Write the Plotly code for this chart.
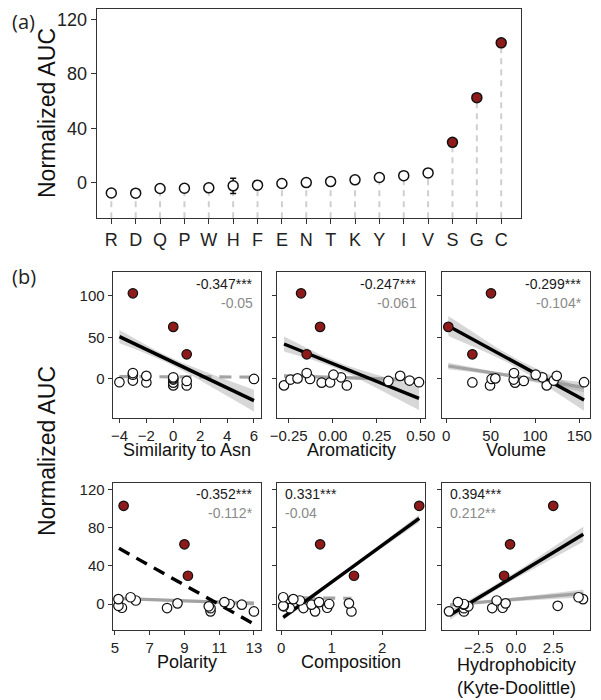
import numpy as np
import plotly.graph_objects as go

FONT = "Liberation Sans, Arial, Helvetica, sans-serif"
PAGE_W, PAGE_H = 601, 700
OFF = 8  # default body margin of the html page
W, H = PAGE_W - OFF, PAGE_H - OFF
RED = "#8e1a1a"

# ---- data (residue order as in panel a) ----
residues = ["R", "D", "Q", "P", "W", "H", "F", "E", "N", "T", "K", "Y", "I", "V", "S", "G", "C"]
auc = [-7.7, -7.8, -4.4, -4.2, -3.9, -2.4, -1.9, -0.7, 0.0, 0.7, 2.0, 3.7, 5.1, 7.1, 29.6, 62.5, 102.8]
auc_err = [0.8, 0.8, 1.0, 1.0, 1.5, 5.6, 3.0, 0.8, 0.8, 0.8, 0.8, 1.5, 0.8, 0.8, 0.8, 0.8, 0.8]
highlight = ["S", "G", "C"]

similarity_asn = [0, 1, 0, -2, -4, 1, -3, 0, 6, 0, 0, -2, -3, -3, 1, 0, -3]
aromaticity = [-0.277, 0.08, -0.063, -0.015, 0.49, 0.316, 0.436, -0.24, -0.129, -0.2, 0.047, 0.383, 0.004, -0.148,
               -0.148, -0.072, -0.18]
volume = [113.2, 49.3, 77.5, 29.4, 155.3, 87.3, 121.1, 76.0, 51.1, 55.3, 108.3, 124.5, 100.8, 76.3, 29.4, 2.3, 50.4]
polarity = [10.5, 13.0, 10.5, 8.0, 5.4, 10.4, 5.2, 12.3, 11.6, 8.6, 11.3, 6.2, 5.2, 5.9, 9.2, 9.0, 5.5]
composition = [0.67, 1.39, 0.17, 0.44, 0.91, 0.05, 0.04, 0.6, 0.95, 1.34, 0.75, 0.37, 0.24, 0.04, 1.44, 0.77, 2.73]
hydrophobicity = [-4.5, -3.5, -3.5, -1.6, -0.9, -3.2, 2.8, -3.5, -3.5, -0.7, -3.9, -1.3, 4.5, 4.2, -0.8, -0.4, 2.5]

properties = [similarity_asn, aromaticity, volume, polarity, composition, hydrophobicity]
prop_titles = ["Similarity to Asn", "Aromaticity", "Volume", "Polarity", "Composition",
               "Hydrophobicity<br>(Kyte-Doolittle)"]

corr_all = ["-0.347***", "-0.247***", "-0.299***", "-0.352***", "0.331***", "0.394***"]
corr_sub = ["-0.05", "-0.061", "-0.104*", "-0.112*", "-0.04", "0.212**"]

# fitted lines (all residues / without S,G,C): end points and CI half widths (left, min, right)
fit_all_x = [[-4, 6], [-0.277, 0.49], [2.3, 155.3], [5.23, 13.0], [0.04, 2.73], [-4.43, 4.52]]
fit_all_y = [[50.8, -26.0], [42.0, -23.2], [63.6, -25.2], [58.3, -20.9], [-14.0, 89.7], [-11.5, 73.0]]
fit_all_ci = [[8, 4, 13], [9, 4, 14], [12, 5, 13], [0, 0, 0], [3, 1.5, 4], [5, 3, 8]]
fit_sub_x = [[-4, 6], [-0.277, 0.49], [2.3, 155.3], [5.1, 13.0], [0.04, 1.39], [-4.43, 4.52]]
fit_sub_y = [[2.8, 2.3], [3.6, -1.2], [15.6, -10.0], [6.0, 0.7], [6.5, 6.0], [-1.0, 11.2]]
fit_sub_ci = [[0, 0, 0], [2, 1, 3], [4, 2, 6], [1.5, 1, 2.5], [0, 0, 0], [2, 1.5, 4]]
all_dashed = [False, False, False, True, False, False]
sub_dashed = [True, False, False, False, True, False]

# ---- layout geometry (page pixels) ----
a_box = (96.7, 520.7, 9.3, 218.3)
cols = [(112.7, 260.7), (277.3, 425.0), (442.3, 590.0)]
rows = [(272.3, 418.3), (482.7, 630.0)]
a_yrange = [-26.3, 127.5]
b_xranges = [[-4.5, 6.5], [-0.315, 0.524], [-4.5, 162], [4.87, 13.39], [-0.077, 2.845], [-4.95, 4.97]]
b_yranges = [[-47.2, 128], [-27.2, 127]]
b_xticks = [[-4, -2, 0, 2, 4, 6], [-0.25, 0, 0.25, 0.5], [0, 50, 100, 150], [5, 7, 9, 11, 13], [0, 1, 2],
            [-2.5, 0, 2.5]]
b_xfmt = ["", ".2f", "", "", "", ".1f"]
b_yticks = [[0, 50, 100], [0, 40, 80, 120]]


def px(x):
    return (x - OFF) / W


def py(y):
    return 1 - (y - OFF) / H


def band(xr, yr, ci, n=50):
    a, lw, rw = ci[1], ci[0], ci[2]
    xs, xe = xr
    L, R = max(lw ** 2 - a ** 2, 1e-6), max(rw ** 2 - a ** 2, 1e-6)
    r = np.sqrt(L / R)
    xc = (xs + r * xe) / (1 + r)
    b = np.sqrt(L) / (xc - xs)
    xx = np.linspace(xs, xe, n)
    yy = yr[0] + (yr[1] - yr[0]) * (xx - xs) / (xe - xs)
    hw = np.sqrt(a ** 2 + b ** 2 * (xx - xc) ** 2)
    return np.concatenate([xx, xx[::-1]]), np.concatenate([yy + hw, (yy - hw)[::-1]])


fig = go.Figure()

is_red = [r in highlight for r in residues]
white_idx = [i for i, f in enumerate(is_red) if not f]
red_idx = [i for i, f in enumerate(is_red) if f]

# ---- panel (a) ----
sx, sy = [], []
for i, v in enumerate(auc):
    sx += [i, i, None]
    sy += [a_yrange[0], v, None]
fig.add_trace(go.Scatter(x=sx, y=sy, mode="lines", xaxis="x", yaxis="y",
                         line=dict(color="#cfcfcf", width=2, dash="6px,5px"), hoverinfo="skip"))
for idx, fill in [(white_idx, "white"), (red_idx, RED)]:
    fig.add_trace(go.Scatter(
        x=idx, y=[auc[i] for i in idx], xaxis="x", yaxis="y", mode="markers",
        error_y=dict(type="data", array=[auc_err[i] for i in idx], color="#111", thickness=1.5, width=3),
        marker=dict(size=10, color=fill, line=dict(color="#111", width=1.5)),
    ))

# ---- panel (b) ----
for k, prop in enumerate(properties):
    ax = k + 2
    xa, ya = "x%d" % ax, "y%d" % ax
    for xr, yr, ci, dashed, col, wid in [
        (fit_sub_x[k], fit_sub_y[k], fit_sub_ci[k], sub_dashed[k], "#a3a3a3", 3.2),
        (fit_all_x[k], fit_all_y[k], fit_all_ci[k], all_dashed[k], "#000000", 3.4),
    ]:
        if ci[0] > 0:
            bx, by = band(xr, yr, ci)
            fig.add_trace(go.Scatter(x=bx, y=by, xaxis=xa, yaxis=ya, mode="lines", fill="toself",
                                     fillcolor="rgba(150,150,150,0.38)", line=dict(width=0),
                                     hoverinfo="skip"))
        fig.add_trace(go.Scatter(x=xr, y=yr, xaxis=xa, yaxis=ya, mode="lines",
                                 line=dict(color=col, width=wid,
                                           dash="12px,8px" if dashed else "solid")))
    for idx, fill in [(white_idx, "white"), (red_idx, RED)]:
        fig.add_trace(go.Scatter(
            x=[prop[i] for i in idx], y=[auc[i] for i in idx], xaxis=xa, yaxis=ya, mode="markers",
            marker=dict(size=9.5, color=fill, line=dict(color="#111", width=1.2)),
        ))

axis_common = dict(showline=True, mirror=True, linecolor="#333", linewidth=1.2, ticks="outside",
                   ticklen=4, tickcolor="#333", showgrid=False, zeroline=False, automargin=False,
                   tickfont=dict(family=FONT, size=15, color="#222"))

layout = dict(
    width=W, height=H, margin=dict(l=0, r=0, t=0, b=0), showlegend=False,
    paper_bgcolor="white", plot_bgcolor="white", font=dict(family=FONT, color="#222"),
)
layout["xaxis"] = dict(axis_common, domain=[px(a_box[0]), px(a_box[1])], range=[-0.6, 16.8],
                       tickmode="array", tickvals=list(range(len(residues))), ticktext=residues,
                       tickfont=dict(family=FONT, size=18, color="#222"), ticklen=5, anchor="y")
layout["yaxis"] = dict(axis_common, domain=[py(a_box[3]), py(a_box[2])], range=a_yrange,
                       tickvals=[0, 40, 80, 120], tickfont=dict(family=FONT, size=18, color="#222"),
                       ticklen=5, anchor="x")

annotations = []
for k in range(6):
    ax = k + 2
    r, c = divmod(k, 3)
    x0, x1 = cols[c]
    y0, y1 = rows[r]
    layout["xaxis%d" % ax] = dict(axis_common, domain=[px(x0), px(x1)], range=b_xranges[k],
                                  tickvals=b_xticks[k], tickformat=b_xfmt[k], anchor="y%d" % ax)
    layout["yaxis%d" % ax] = dict(axis_common, domain=[py(y1), py(y0)], range=b_yranges[r],
                                  tickvals=b_yticks[r], showticklabels=(c == 0), anchor="x%d" % ax)
    left = k >= 4
    tx = x0 + 6 if left else x1 - 6
    anchor = "left" if left else "right"
    annotations.append(dict(x=px(tx), y=py(y0 + 11.5), text=corr_all[k], xanchor=anchor,
                            font=dict(size=14, color="#1a1a1a")))
    annotations.append(dict(x=px(tx), y=py(y0 + 30.5), text=corr_sub[k], xanchor=anchor,
                            font=dict(size=14, color="#8a8a8a")))
    ty = y1 + 32 if k != 5 else y1 + 46
    annotations.append(dict(x=px((x0 + x1) / 2), y=py(ty), text=prop_titles[k], xanchor="center",
                            font=dict(size=18, color="#111")))

annotations += [
    dict(x=px(10), y=py(21), text="(a)", xanchor="left", font=dict(family="Open Sans, sans-serif", size=20)),
    dict(x=px(10), y=py(277), text="(b)", xanchor="left", font=dict(family="Open Sans, sans-serif", size=20)),
    dict(x=px(47), y=py(113), text="Normalized AUC", textangle=-90, xanchor="center",
         font=dict(size=23, color="#111")),
    dict(x=px(47), y=py(451), text="Normalized AUC", textangle=-90, xanchor="center",
         font=dict(size=23, color="#111")),
]
for an in annotations:
    an.update(xref="paper", yref="paper", showarrow=False, yanchor="middle")
layout["annotations"] = annotations

fig.update_layout(**layout)
fig.write_html("out.html")
